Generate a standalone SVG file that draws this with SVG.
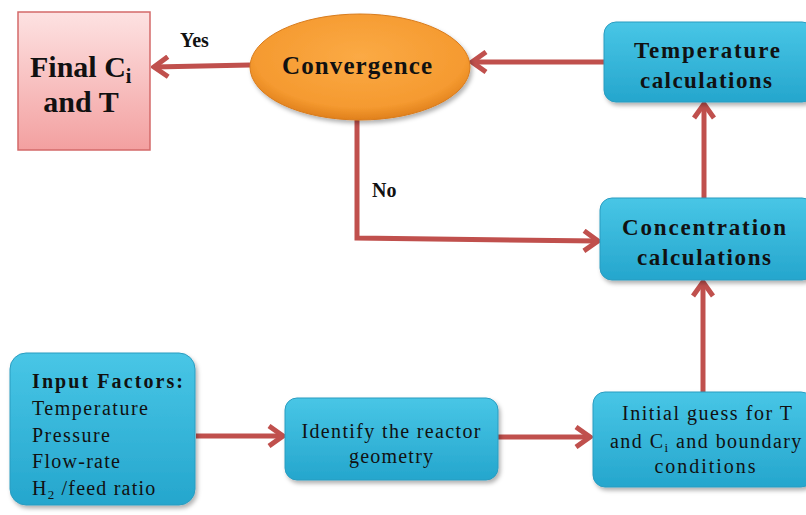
<svg xmlns="http://www.w3.org/2000/svg" width="806" height="515" viewBox="0 0 806 515">
<defs>
<linearGradient id="gCyan" x1="0" y1="0" x2="0" y2="1">
<stop offset="0" stop-color="#48c6e6"/>
<stop offset="1" stop-color="#25a6cd"/>
</linearGradient>
<linearGradient id="gPink" x1="0" y1="0" x2="0" y2="1">
<stop offset="0" stop-color="#fde2e2"/>
<stop offset="1" stop-color="#f3a0a0"/>
</linearGradient>
<radialGradient id="gOrange" cx="0.5" cy="0.4" r="0.6">
<stop offset="0" stop-color="#fbaa45"/>
<stop offset="0.8" stop-color="#f59a30"/>
<stop offset="1" stop-color="#e0801c"/>
</radialGradient>
<filter id="sh" x="-10%" y="-10%" width="125%" height="130%">
<feDropShadow dx="2" dy="3" stdDeviation="2" flood-color="#000" flood-opacity="0.3"/>
</filter>
<marker id="chev" markerUnits="userSpaceOnUse" viewBox="0 0 20 24" markerWidth="20" markerHeight="24" refX="17" refY="12" orient="auto">
<path d="M3,2 L17,12 L3,22" fill="none" stroke="#c0504d" stroke-width="5" stroke-linejoin="miter"/>
</marker>
</defs>
<style>
.box{fill:url(#gCyan);stroke:#2a9cc0;stroke-width:1;filter:url(#sh)}
.c{stroke:#c0504d;stroke-width:5;fill:none;marker-end:url(#chev)}
</style>

<g id="connectors">
<line class="c" x1="250" y1="65" x2="154" y2="67"/>
<line class="c" x1="604" y1="62" x2="472" y2="62"/>
<line class="c" x1="704" y1="198" x2="704" y2="104"/>
<polyline class="c" points="357,120 357,238 598,241"/>
<line class="c" x1="703" y1="392" x2="703" y2="282"/>
<line class="c" x1="196" y1="436" x2="283" y2="436"/>
<line class="c" x1="498" y1="437" x2="590" y2="437"/>
<text style="font-family:'Liberation Serif',serif" font-weight="bold" fill="#111" x="180" y="47" font-size="20">Yes</text>
<text style="font-family:'Liberation Serif',serif" font-weight="bold" fill="#111" x="372" y="197" font-size="20">No</text>
</g>

<g id="final">
<rect x="18" y="12" width="132" height="138" fill="url(#gPink)" stroke="#d36a6a" stroke-width="1.5"/>
<text style="font-family:'Liberation Serif',serif" font-weight="bold" fill="#111" x="30" y="77" font-size="30">Final C<tspan font-size="20" dy="6">i</tspan></text>
<text style="font-family:'Liberation Serif',serif" font-weight="bold" fill="#111" x="81" y="112" font-size="30" text-anchor="middle">and T</text>
</g>

<g id="convergence">
<ellipse cx="360" cy="67" rx="110" ry="53" fill="url(#gOrange)" stroke="#d87b1c" stroke-width="1" filter="url(#sh)"/>
<text style="font-family:'Liberation Serif',serif" font-weight="bold" fill="#111" x="357" y="74" font-size="25" text-anchor="middle" textLength="150" lengthAdjust="spacing">Convergence</text>
</g>

<g id="temperature">
<rect class="box" x="604" y="22" width="210" height="80" rx="12"/>
<text style="font-family:'Liberation Serif',serif" font-weight="bold" fill="#111" x="707" y="58" font-size="23" text-anchor="middle" textLength="146" lengthAdjust="spacing">Temperature</text>
<text style="font-family:'Liberation Serif',serif" font-weight="bold" fill="#111" x="706" y="88" font-size="23" text-anchor="middle" textLength="132" lengthAdjust="spacing">calculations</text>
</g>

<g id="concentration">
<rect class="box" x="600" y="198" width="214" height="82" rx="12"/>
<text style="font-family:'Liberation Serif',serif" font-weight="bold" fill="#111" x="704" y="235" font-size="23" text-anchor="middle" textLength="164" lengthAdjust="spacing">Concentration</text>
<text style="font-family:'Liberation Serif',serif" font-weight="bold" fill="#111" x="704" y="265" font-size="23" text-anchor="middle" textLength="134" lengthAdjust="spacing">calculations</text>
</g>

<g id="input">
<rect class="box" x="10" y="353" width="185" height="152" rx="16"/>
<text style="font-family:'Liberation Serif',serif" font-weight="bold" fill="#111" x="32" y="388" font-size="20" textLength="151" lengthAdjust="spacing">Input  Factors:</text>
<text style="font-family:'Liberation Serif',serif" fill="#111" x="32" y="415" font-size="20" textLength="116" lengthAdjust="spacing">Temperature</text>
<text style="font-family:'Liberation Serif',serif" fill="#111" x="32" y="442" font-size="20" textLength="78" lengthAdjust="spacing">Pressure</text>
<text style="font-family:'Liberation Serif',serif" fill="#111" x="32" y="468" font-size="20" textLength="88" lengthAdjust="spacing">Flow-rate</text>
<text style="font-family:'Liberation Serif',serif" fill="#111" x="32" y="495" font-size="20" letter-spacing="1.2">H<tspan font-size="13" dy="4">2</tspan><tspan dy="-4"> /feed ratio</tspan></text>
</g>

<g id="identify">
<rect class="box" x="285" y="398" width="213" height="82" rx="12"/>
<text style="font-family:'Liberation Serif',serif" fill="#111" x="391" y="438" font-size="20" text-anchor="middle" textLength="179" lengthAdjust="spacing">Identify the reactor</text>
<text style="font-family:'Liberation Serif',serif" fill="#111" x="391" y="463" font-size="20" text-anchor="middle" textLength="84" lengthAdjust="spacing">geometry</text>
</g>

<g id="initial">
<rect class="box" x="593" y="392" width="220" height="95" rx="12"/>
<text style="font-family:'Liberation Serif',serif" fill="#111" x="707" y="420" font-size="20" text-anchor="middle" textLength="170" lengthAdjust="spacing">Initial guess for T</text>
<text style="font-family:'Liberation Serif',serif" fill="#111" x="610" y="448" font-size="20" letter-spacing="1.45">and C<tspan font-size="13" dy="4">i</tspan><tspan dy="-4"> and boundary</tspan></text>
<text style="font-family:'Liberation Serif',serif" fill="#111" x="705" y="473" font-size="20" text-anchor="middle" textLength="101" lengthAdjust="spacing">conditions</text>
</g>
</svg>
